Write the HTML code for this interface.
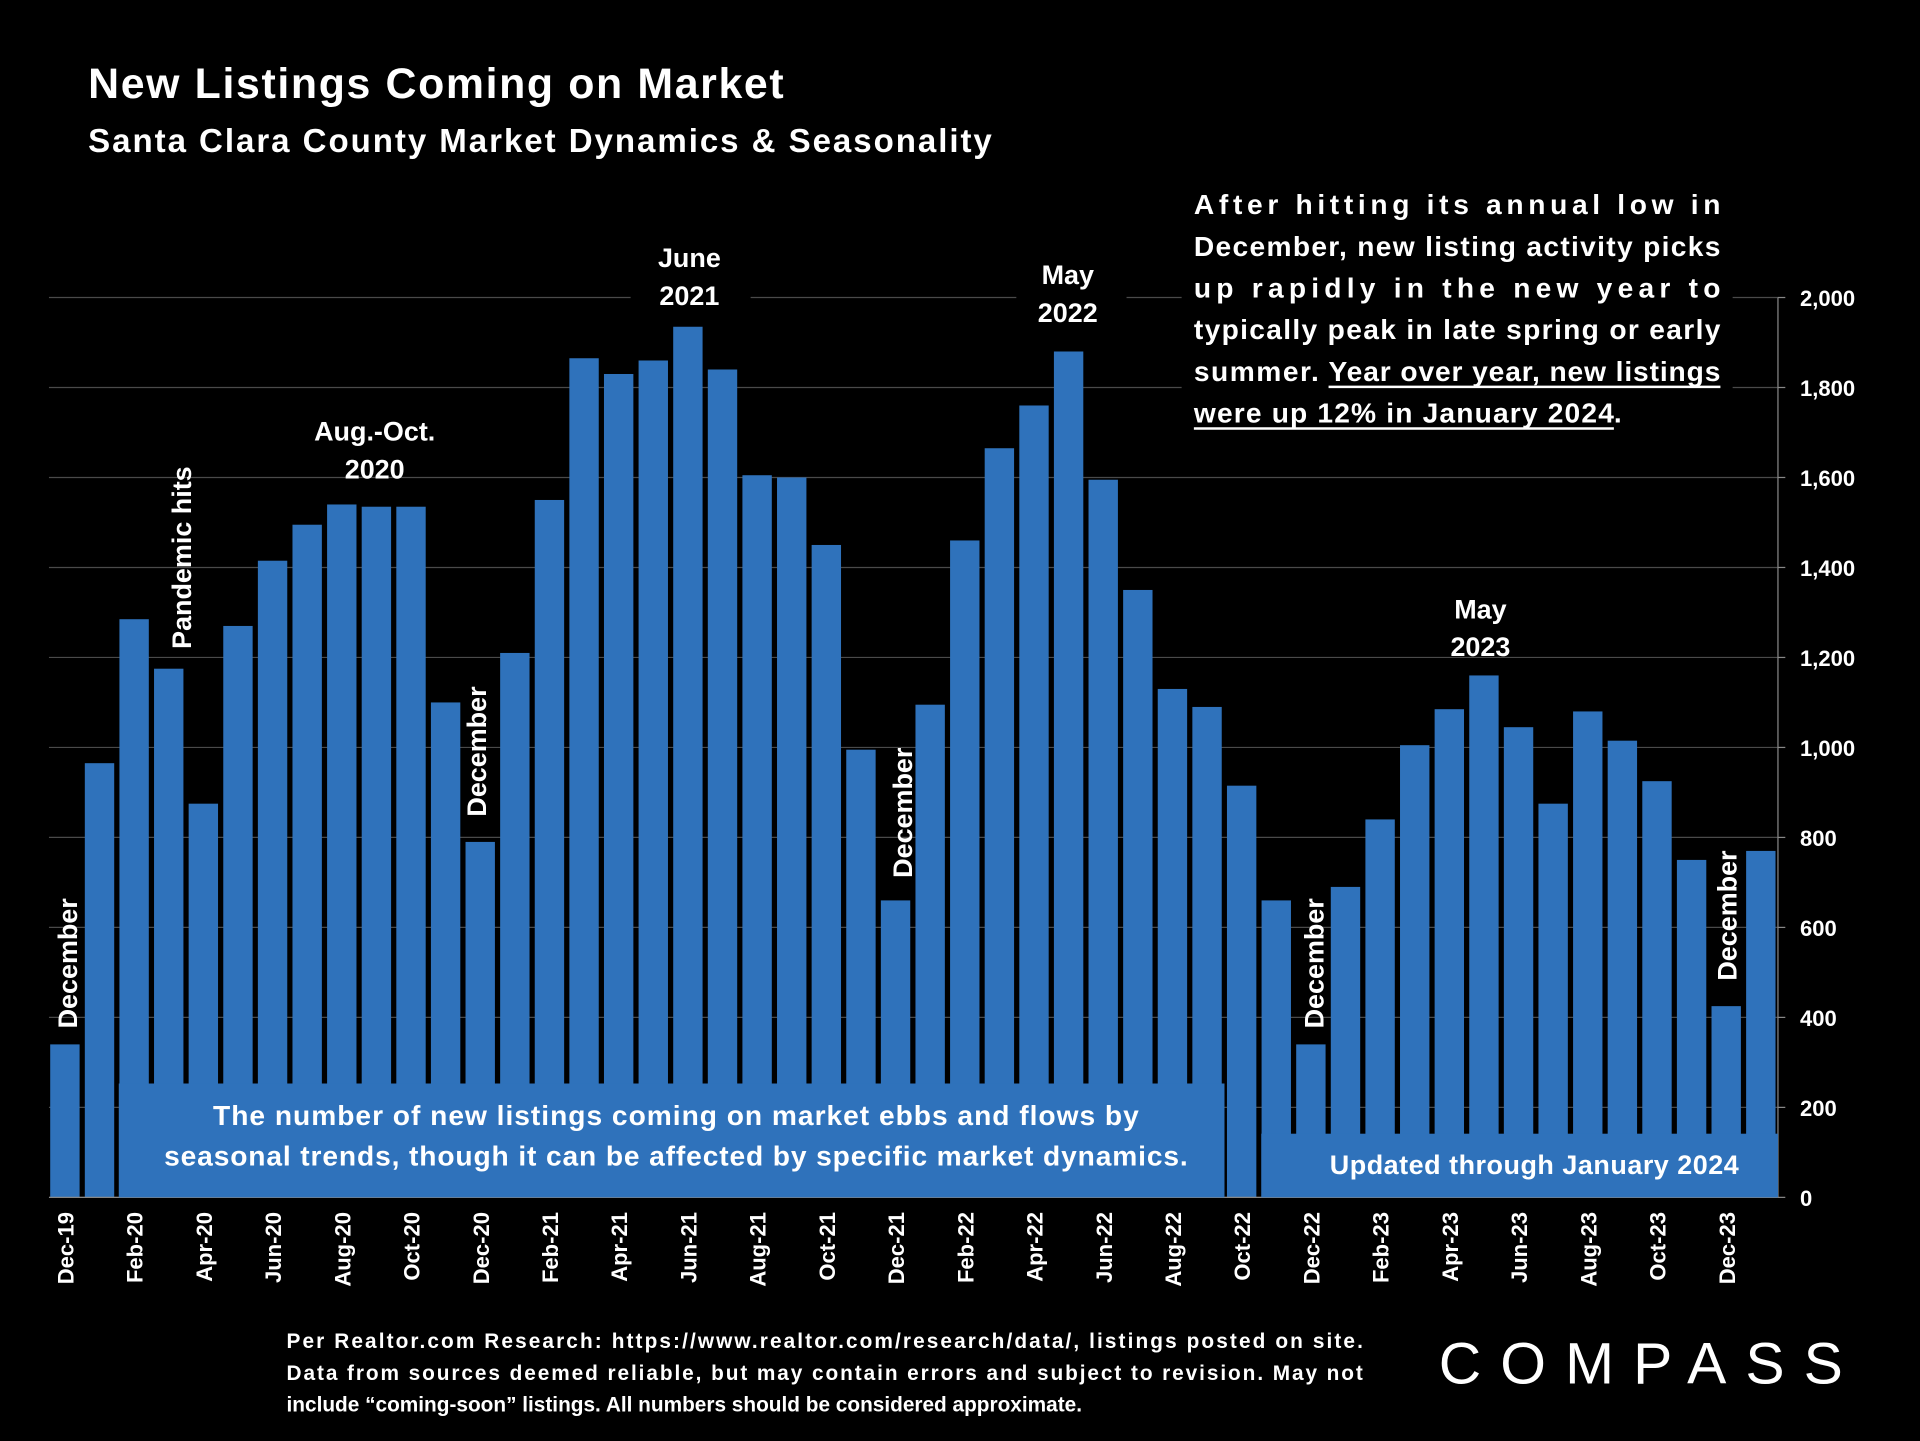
<!DOCTYPE html>
<html><head><meta charset="utf-8"><style>
html,body{margin:0;padding:0;background:#000;}
svg{display:block;font-family:"Liberation Sans",sans-serif;}
</style></head><body>
<svg width="1920" height="1441" viewBox="0 0 1568 1177" preserveAspectRatio="none" xmlns="http://www.w3.org/2000/svg">
<rect x="0" y="0" width="1568" height="1177" fill="#000"/>
<text x="72" y="80" fill="#fff" font-size="35" font-weight="bold" textLength="568">New Listings Coming on Market</text>
<text x="72" y="124" fill="#fff" font-size="27" font-weight="bold" textLength="738">Santa Clara County Market Dynamics &amp; Seasonality</text>
<g id="grid"></g>
<g id="bars"></g>
<g id="xlabels"></g>
<g id="ylabels"></g>
<line x1="1452" y1="243" x2="1452" y2="978" stroke="#888" stroke-width="1"/>
<line x1="40" y1="978" x2="1452" y2="978" stroke="#888" stroke-width="1"/>
<rect x="97" y="885" width="903" height="93" fill="#2f72bb"/>
<text x="552" y="919" fill="#fff" font-size="23" font-weight="bold" text-anchor="middle" textLength="756">The number of new listings coming on market ebbs and flows by</text>
<text x="552" y="952" fill="#fff" font-size="23" font-weight="bold" text-anchor="middle" textLength="836">seasonal trends, though it can be affected by specific market dynamics.</text>
<rect x="1030" y="926" width="422" height="52" fill="#2f72bb"/>
<text x="1253" y="959" fill="#fff" font-size="22" font-weight="bold" text-anchor="middle" textLength="334">Updated through January 2024</text>
<g fill="#fff" font-weight="bold" font-size="22" text-anchor="middle">
<rect x="515" y="196" width="98" height="62" fill="#000"/>
<text x="563" y="218">June</text>
<text x="563" y="249">2021</text>
<rect x="830" y="210" width="90" height="62" fill="#000"/>
<text x="872" y="232">May</text>
<text x="872" y="263">2022</text>
<text x="306" y="360">Aug.-Oct.</text>
<text x="306" y="391">2020</text>
<text x="1209" y="505">May</text>
<text x="1209" y="536">2023</text>
<g text-anchor="start">
<text transform="translate(156,530) rotate(-90)">Pandemic hits</text>
<text transform="translate(63,840) rotate(-90)">December</text>
<text transform="translate(397,667) rotate(-90)">December</text>
<text transform="translate(745,717) rotate(-90)">December</text>
<text transform="translate(1081,840) rotate(-90)">December</text>
<text transform="translate(1418,801) rotate(-90)">December</text>
</g>
</g>
<rect x="965" y="145" width="450" height="210" fill="#000"/>
<g fill="#fff" font-size="23" font-weight="bold">
<text x="975" y="175" textLength="430" lengthAdjust="spacing">After hitting its annual low in</text>
<text x="975" y="209" textLength="430" lengthAdjust="spacing">December, new listing activity picks</text>
<text x="975" y="243" textLength="430" lengthAdjust="spacing">up rapidly in the new year to</text>
<text x="975" y="277" textLength="430" lengthAdjust="spacing">typically peak in late spring or early</text>
<text x="975" y="311" textLength="102">summer.</text>
<text x="1085" y="311" textLength="320">Year over year, new listings</text>
<line x1="1085" y1="316" x2="1405" y2="316" stroke="#fff" stroke-width="2"/>
<text x="975" y="345" textLength="343">were up 12% in January 2024</text>
<line x1="975" y1="350" x2="1318" y2="350" stroke="#fff" stroke-width="2"/>
<text x="1318" y="345">.</text>
</g>
<g fill="#fff" font-size="17" font-weight="bold">
<text x="234" y="1101" textLength="879" lengthAdjust="spacing">Per Realtor.com Research: https://www.realtor.com/research/data/, listings posted on site.</text>
<text x="234" y="1127" textLength="879" lengthAdjust="spacing">Data from sources deemed reliable, but may contain errors and subject to revision. May not</text>
<text x="234" y="1153">include “coming-soon” listings. All numbers should be considered approximate.</text>
</g>
<text x="1175" y="1130" fill="#fff" font-size="48" textLength="330" lengthAdjust="spacing">COMPASS</text>
<script>
const months = ["Dec-19","Jan-20","Feb-20","Mar-20","Apr-20","May-20","Jun-20","Jul-20","Aug-20","Sep-20","Oct-20","Nov-20","Dec-20","Jan-21","Feb-21","Mar-21","Apr-21","May-21","Jun-21","Jul-21","Aug-21","Sep-21","Oct-21","Nov-21","Dec-21","Jan-22","Feb-22","Mar-22","Apr-22","May-22","Jun-22","Jul-22","Aug-22","Sep-22","Oct-22","Nov-22","Dec-22","Jan-23","Feb-23","Mar-23","Apr-23","May-23","Jun-23","Jul-23","Aug-23","Sep-23","Oct-23","Nov-23","Dec-23","Jan-24"];
const listings = [340,965,1285,1175,875,1270,1415,1495,1540,1535,1535,1100,790,1210,1550,1865,1830,1860,1935,1840,1605,1600,1450,995,660,1095,1460,1665,1760,1880,1595,1350,1130,1090,915,660,340,690,840,1005,1085,1160,1045,875,1080,1015,925,750,425,770];
const yTicks = [0,200,400,600,800,1000,1200,1400,1600,1800,2000];
const NS="http://www.w3.org/2000/svg";
const y0=978, yTop=243, yMax=2000;
function yScale(v){return y0-(v/yMax)*(y0-yTop);}
const xStart=53, xEnd=1438;
function xScale(i){return xStart+i*(xEnd-xStart)/(months.length-1);}
const bw=24;
const grid=document.getElementById('grid'), bars=document.getElementById('bars'), xl=document.getElementById('xlabels'), yl=document.getElementById('ylabels');
yTicks.forEach(t=>{
  const l=document.createElementNS(NS,'line');
  
  
  l.setAttribute('x1',40);l.setAttribute('x2',1452);l.setAttribute('y1',yScale(t));l.setAttribute('y2',yScale(t));
  l.setAttribute('stroke','#4a4a4a');l.setAttribute('stroke-width','1');
  grid.appendChild(l);
  const tx=document.createElementNS(NS,'text');
  
  
  tx.setAttribute('x',1470);tx.setAttribute('y',yScale(t)+7);
  tx.setAttribute('fill','#fff');tx.setAttribute('font-size','18');tx.setAttribute('font-weight','bold');
  tx.textContent=t.toLocaleString('en-US');
  yl.appendChild(tx);
  const tk=document.createElementNS(NS,'line');
  
  
  tk.setAttribute('x1',1452);tk.setAttribute('x2',1458);tk.setAttribute('y1',yScale(t));tk.setAttribute('y2',yScale(t));
  tk.setAttribute('stroke','#888');
  yl.appendChild(tk);
});
listings.forEach((v,i)=>{
  const r=document.createElementNS(NS,'rect');
  
  
  r.setAttribute('x',xScale(i)-bw/2);r.setAttribute('y',yScale(v));
  r.setAttribute('width',bw);r.setAttribute('height',y0-yScale(v));
  r.setAttribute('fill','#2f72bb');
  bars.appendChild(r);
  if(i%2===0){
    const t=document.createElementNS(NS,'text');
    
    
    t.setAttribute('transform','translate('+(xScale(i)+7)+',990) rotate(-90)');
    t.setAttribute('text-anchor','end');
    t.setAttribute('fill','#fff');t.setAttribute('font-size','18');t.setAttribute('font-weight','bold');
    t.textContent=months[i];
    xl.appendChild(t);
  }
});
</script>
</svg>
</body></html>
